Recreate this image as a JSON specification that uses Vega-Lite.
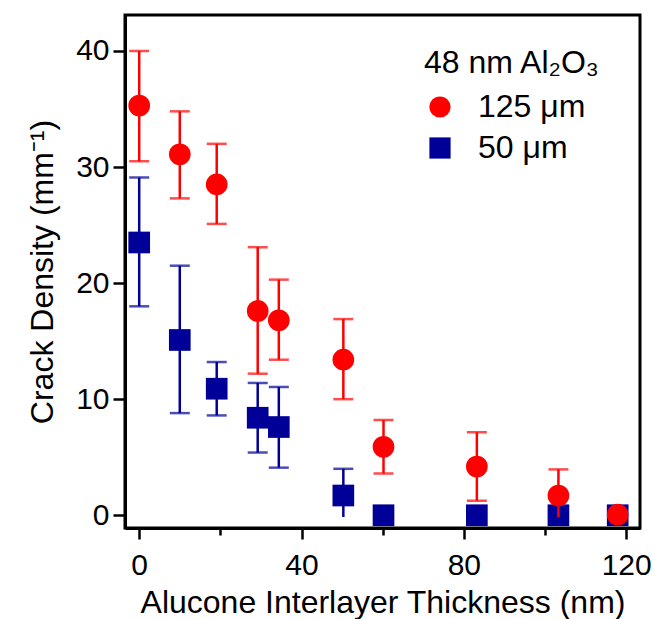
{
  "$schema": "https://vega.github.io/schema/vega-lite/v6.json",
  "width": 515,
  "height": 513,
  "autosize": {"type": "none"},
  "padding": {"left": 125, "top": 15, "right": 14, "bottom": 91},
  "background": "white",
  "config": {
    "font": "Liberation Sans",
    "view": {"stroke": "#000000", "strokeWidth": 3},
    "axis": {
      "domainColor": "#000000", "domainWidth": 3,
      "tickColor": "#000000", "tickWidth": 2.5,
      "labelColor": "#000000", "titleColor": "#000000",
      "labelFont": "Liberation Sans", "titleFont": "Liberation Sans",
      "labelFontSize": 30, "titleFontSize": 32, "titleFontWeight": "normal",
      "grid": false
    },
    "legend": {
      "labelFont": "Liberation Sans", "titleFont": "Liberation Sans"
    }
  },
  "data": {
    "values": [
      {"series": "125 μm", "x": 0, "y": 35.3, "lo": 30.5, "hi": 40.0},
      {"series": "125 μm", "x": 10, "y": 31.1, "lo": 27.3, "hi": 34.8},
      {"series": "125 μm", "x": 19.1, "y": 28.5, "lo": 25.1, "hi": 32.0},
      {"series": "125 μm", "x": 29.2, "y": 17.6, "lo": 12.2, "hi": 23.1},
      {"series": "125 μm", "x": 34.4, "y": 16.8, "lo": 13.4, "hi": 20.3},
      {"series": "125 μm", "x": 50.3, "y": 13.4, "lo": 10.0, "hi": 16.9},
      {"series": "125 μm", "x": 60.2, "y": 5.9, "lo": 3.6, "hi": 8.2},
      {"series": "125 μm", "x": 83.2, "y": 4.2, "lo": 1.25, "hi": 7.15},
      {"series": "125 μm", "x": 103.3, "y": 1.7, "lo": -0.15, "hi": 3.95},
      {"series": "125 μm", "x": 117.9, "y": 0.05, "lo": null, "hi": null},
      {"series": "50 μm", "x": 0, "y": 23.5, "lo": 18.0, "hi": 29.1},
      {"series": "50 μm", "x": 10, "y": 15.1, "lo": 8.8, "hi": 21.5},
      {"series": "50 μm", "x": 19.1, "y": 10.9, "lo": 8.6, "hi": 13.2},
      {"series": "50 μm", "x": 29.2, "y": 8.4, "lo": 5.4, "hi": 11.4},
      {"series": "50 μm", "x": 34.4, "y": 7.6, "lo": 4.1, "hi": 11.05},
      {"series": "50 μm", "x": 50.3, "y": 1.7, "lo": -0.15, "hi": 4.0},
      {"series": "50 μm", "x": 60.2, "y": 0, "lo": null, "hi": null},
      {"series": "50 μm", "x": 83.2, "y": 0, "lo": null, "hi": null},
      {"series": "50 μm", "x": 103.3, "y": 0, "lo": null, "hi": null},
      {"series": "50 μm", "x": 117.9, "y": 0, "lo": null, "hi": null}
    ]
  },
  "encoding": {
    "x": {
      "field": "x", "type": "quantitative",
      "scale": {"domain": [-3.5, 123.4], "nice": false, "zero": false},
      "axis": {
        "title": "Alucone Interlayer Thickness (nm)",
        "values": [0, 20, 40, 60, 80, 100, 120],
        "labelExpr": "datum.value % 40 === 0 ? datum.label : ''",
        "tickSize": {"condition": {"test": "datum.value % 40 === 0", "value": 11}, "value": 7},
        "labelPadding": 11,
        "titlePadding": 7
      }
    }
  },
  "layer": [
    {
      "transform": [{"filter": "datum.series === '50 μm' && datum.hi != null"}],
      "mark": {"type": "rule", "color": "#000099", "strokeWidth": 2.5},
      "encoding": {
        "y": {"field": "lo", "type": "quantitative"},
        "y2": {"field": "hi"}
      }
    },
    {
      "transform": [{"filter": "datum.series === '50 μm' && datum.hi != null"}],
      "mark": {"type": "tick", "orient": "horizontal", "color": "#000099", "size": 20, "thickness": 2.5},
      "encoding": {"y": {"field": "hi", "type": "quantitative"}}
    },
    {
      "transform": [{"filter": "datum.series === '50 μm' && datum.lo != null && datum.lo >= 0"}],
      "mark": {"type": "tick", "orient": "horizontal", "color": "#000099", "size": 20, "thickness": 2.5},
      "encoding": {"y": {"field": "lo", "type": "quantitative"}}
    },
    {
      "transform": [{"filter": "datum.series === '50 μm'"}],
      "mark": {"type": "point", "filled": true, "opacity": 1, "size": 470},
      "encoding": {
        "y": {"field": "y", "type": "quantitative"},
        "color": {"field": "series", "type": "nominal"},
        "shape": {"field": "series", "type": "nominal"}
      }
    },
    {
      "transform": [{"filter": "datum.series === '125 μm' && datum.hi != null"}],
      "mark": {"type": "rule", "color": "#ff0000", "strokeWidth": 2.5},
      "encoding": {
        "y": {"field": "lo", "type": "quantitative"},
        "y2": {"field": "hi"}
      }
    },
    {
      "transform": [{"filter": "datum.series === '125 μm' && datum.hi != null"}],
      "mark": {"type": "tick", "orient": "horizontal", "color": "#ff0000", "size": 20, "thickness": 2.5},
      "encoding": {"y": {"field": "hi", "type": "quantitative"}}
    },
    {
      "transform": [{"filter": "datum.series === '125 μm' && datum.lo != null && datum.lo >= 0"}],
      "mark": {"type": "tick", "orient": "horizontal", "color": "#ff0000", "size": 20, "thickness": 2.5},
      "encoding": {"y": {"field": "lo", "type": "quantitative"}}
    },
    {
      "transform": [{"filter": "datum.series === '125 μm'"}],
      "mark": {"type": "point", "filled": true, "opacity": 1, "size": 470},
      "encoding": {
        "y": {
          "field": "y", "type": "quantitative",
          "scale": {"domain": [-1.1, 43.1], "nice": false, "zero": false},
          "axis": {
            "title": "Crack Density (mm⁻¹)",
            "values": [0, 10, 20, 30, 40],
            "tickSize": 12,
            "labelPadding": 4,
            "titlePadding": 16
          }
        },
        "color": {
          "field": "series", "type": "nominal",
          "scale": {"domain": ["125 μm", "50 μm"], "range": ["#ff0000", "#000099"]},
          "legend": {
            "title": "48 nm Al₂O₃",
            "orient": "none",
            "legendX": 299,
            "legendY": 33,
            "padding": 0,
            "titleFontSize": 32,
            "titleFontWeight": "normal",
            "titleColor": "#000000",
            "titlePadding": 11,
            "labelFontSize": 32,
            "labelColor": "#000000",
            "labelOffset": 22,
            "rowPadding": 9,
            "symbolSize": 450,
            "symbolStrokeWidth": 0,
            "symbolOpacity": 1
          }
        },
        "shape": {
          "field": "series", "type": "nominal",
          "scale": {"domain": ["125 μm", "50 μm"], "range": ["circle", "square"]}
        }
      }
    }
  ],
  "resolve": {"scale": {"y": "shared"}}
}
